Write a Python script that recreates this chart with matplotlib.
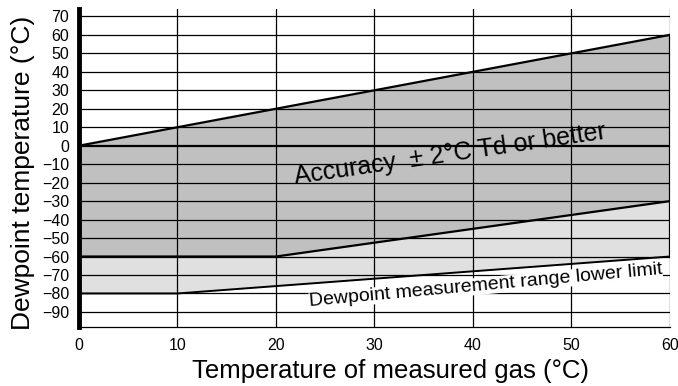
import matplotlib.pyplot as plt
import numpy as np

plt.rcParams['font.family'] = ['Liberation Sans', 'DejaVu Sans']

# boundaries of the regions (gas temperature -> dewpoint)
upper_x = [0, 60]
upper_y = [0, 60]
acc_low_x = [0, 20, 60]
acc_low_y = [-60, -60, -30]
range_low_x = [0, 10, 60]
range_low_y = [-80, -80, -60]

x_ticks = [0, 10, 20, 30, 40, 50, 60]
y_ticks = [70, 60, 50, 40, 30, 20, 10, 0, -10, -20, -30, -40, -50, -60, -70, -80, -90]

fig = plt.figure(figsize=(6.78, 3.86), dpi=100)
ax = fig.add_axes([0.1165, 0.1536, 0.8715, 0.823])
ax.set_xlim(0, 60)
ax.set_ylim(-98, 74)

xs = np.linspace(0, 60, 121)
up = np.interp(xs, upper_x, upper_y)
acc = np.interp(xs, acc_low_x, acc_low_y)
rng = np.interp(xs, range_low_x, range_low_y)

ax.fill_between(xs, rng, acc, color='#e0e0e0', lw=0, zorder=1)
ax.fill_between(xs, acc, up, color='#c0c0c0', lw=0, zorder=1)

# grid
for yv in y_ticks:
    ax.axhline(yv, color='black', lw=0.9 if yv != 0 else 1.6, zorder=2)
for xv in x_ticks[1:]:
    ax.axvline(xv, color='black', lw=0.9, zorder=2)

ax.plot(upper_x, upper_y, color='black', lw=1.6, zorder=3)
ax.plot(acc_low_x, acc_low_y, color='black', lw=1.6, zorder=3)
ax.plot(range_low_x, range_low_y, color='black', lw=1.4, zorder=6)
ax.plot([60, 60], [range_low_y[-1], upper_y[-1]], color='black', lw=1.6, zorder=3)

ax.set_xticks(x_ticks)
ax.set_yticks(y_ticks)
ax.tick_params(length=0, labelsize=11.5)
ax.tick_params(axis='x', pad=8)
ax.tick_params(axis='y', pad=7)

for s in ['top', 'right']:
    ax.spines[s].set_visible(False)
ax.spines['left'].set_linewidth(3.5)
ax.spines['bottom'].set_linewidth(0.9)
ax.spines['left'].set_zorder(4)

ax.text(37.7, -4.8, 'Accuracy  \u00b1 2\u00b0C Td or better', fontsize=18,
        rotation=8.3, ha='center', va='center', zorder=5)
ax.text(41.3, -75.8, 'Dewpoint measurement range lower limit', fontsize=14,
        rotation=5.2, ha='center', va='center', zorder=5,
        bbox=dict(facecolor='white', edgecolor='none', pad=0))

fig.text(390 / 678, 1 - 378 / 386, 'Temperature of measured gas (\u00b0C)',
         fontsize=18.5, ha='center', va='baseline')
fig.text(23 / 678, 1 - 173 / 386, 'Dewpoint temperature (\u00b0C)',
         fontsize=19, rotation=90, ha='center', va='center')

plt.savefig('out.png', dpi=100)
